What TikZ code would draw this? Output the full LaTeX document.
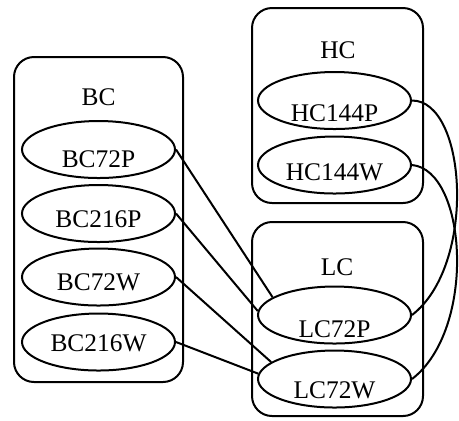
\documentclass[tikz,border=0pt]{standalone}
\usepackage{fontspec}
\setmainfont{Liberation Serif}
\usetikzlibrary{shapes.geometric}
\begin{document}
\begin{tikzpicture}[x=0.5pt, y=-0.5pt, line width=1pt,
    font=\fontsize{12.7}{15}\selectfont,
    ell/.style={draw, ellipse, inner sep=0pt, minimum width=76.5pt, minimum height=28.5pt},
    clus/.style={rounded corners=10pt}]
     \useasboundingbox (0, 0) rectangle (459, 420);

     \draw[clus] (14, 57) rectangle (183, 382);
            \node (bc) at(98.5, 97){BC};
            \node[ell, label={[yshift=-5pt]center:BC72P}] (bc72p) at(98.5, 149.5){};
            \node[ell, label={[yshift=-2.8pt]center:BC216P}] (bc216p) at(98.5, 213.5){};
            \node[ell, label={[yshift=-2.5pt]center:BC72W}] (bc72w) at(98.5, 277){};
            \node[ell, label={[yshift=-0.5pt]center:BC216W}] (bc216w) at(98.5, 342){};
        \draw[clus] (252, 8) rectangle (423, 203);
            \node (hc) at(338, 50){HC};
            \node[ell, label={[yshift=-6.2pt]center:HC144P}] (hc144p) at(334.5, 100.5){};
            \node[ell, label={[yshift=-3.5pt]center:HC144W}] (hc144w) at(334.5, 165){};
        \draw[clus] (252, 222) rectangle (423, 416);
            \node (lc) at(337, 267){LC};
            \node[ell, label={[yshift=-7pt]center:LC72P}] (lc72p) at(334.5, 315){};
            \node[ell, label={[yshift=-5.5pt]center:LC72W}] (lc72w) at(334.5, 379){};

        \draw (bc72p.east) -- (lc72p.164);
        \draw (bc216p.east) -- (lc72p.177);
        \draw (bc72w.east) -- (lc72w.165);
        \draw (bc216w.east) -- (lc72w.176);

        \draw (hc144p.east) .. controls +(55, 0) and +(65, -50) .. (lc72p.east);
        \draw (hc144w.east) .. controls +(55, 5) and +(65, -50) .. (lc72w.east);
    \end{tikzpicture}
\end{document}
